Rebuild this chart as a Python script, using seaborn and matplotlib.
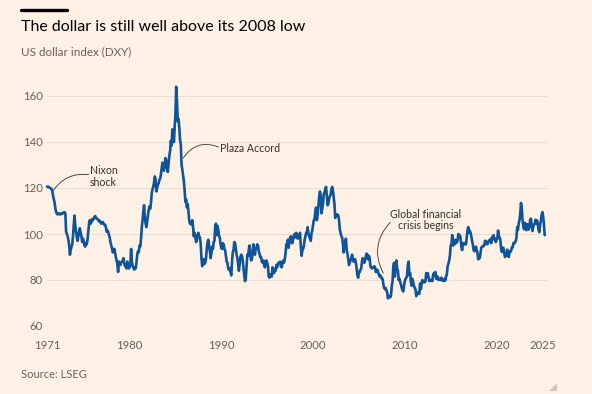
import numpy as np
import pandas as pd
import matplotlib
matplotlib.use("Agg")
import matplotlib.pyplot as plt
from matplotlib.lines import Line2D
from matplotlib.patches import Polygon
import seaborn as sns

# ---- Data: monthly US dollar index (DXY), Jan 1971 - Apr 2025 ----
dxy_1970s = [  # 1971-1980
    120.6, 120.4, 120.5, 120.3, 120.0, 119.8, 119.5, 118.5, 116.5, 115.0, 113.5, 111.0,
    109.5, 108.8, 108.5, 108.8, 109.0, 108.5, 108.6, 108.9, 109.2, 109.0, 109.3, 109.5,
    109.0, 101.0, 100.0, 99.0, 97.5, 95.0, 91.0, 93.0, 94.5, 95.5, 99.0, 104.0,
    108.0, 103.5, 101.0, 98.5, 97.0, 99.0, 101.0, 102.5, 100.5, 99.0, 96.5, 98.0,
    97.0, 95.0, 94.5, 96.0, 95.5, 97.5, 101.0, 104.5, 106.0, 104.5, 105.0, 106.5,
    106.0, 106.5, 107.5, 107.8, 107.0, 106.8, 106.5, 106.0, 105.5, 105.8, 105.0, 104.5,
    105.0, 105.2, 104.5, 104.0, 104.0, 103.0, 101.0, 101.5, 101.0, 99.5, 98.5, 96.5,
    95.0, 94.0, 92.0, 92.5, 93.5, 92.0, 90.0, 88.5, 87.0, 83.5, 88.0, 87.0,
    86.5, 87.5, 88.0, 88.5, 89.5, 87.5, 86.0, 86.5, 85.0, 88.0, 86.5, 85.0,
    85.5, 87.0, 93.5, 88.0, 86.0, 85.5, 84.5, 85.5, 85.0, 87.5, 91.0, 92.5,
]
dxy_1980s = [  # 1981-1990
    92.0, 95.0, 94.5, 98.0, 103.0, 106.0, 110.0, 112.5, 107.0, 104.5, 103.0, 105.5,
    108.0, 110.5, 112.0, 111.0, 113.5, 118.0, 119.5, 120.5, 122.5, 125.0, 124.0, 118.5,
    120.0, 121.5, 122.0, 123.5, 124.0, 126.0, 128.5, 131.0, 128.0, 127.5, 130.5, 133.0,
    132.0, 128.5, 127.0, 130.5, 134.0, 136.0, 140.5, 138.5, 145.5, 143.0, 140.0, 146.5,
    152.0, 164.0, 158.0, 149.0, 150.0, 146.5, 141.0, 139.0, 130.0, 128.0, 125.5, 123.0,
    119.0, 114.0, 115.0, 111.5, 113.0, 110.0, 106.0, 104.5, 105.0, 104.0, 106.0, 103.5,
    99.0, 100.5, 99.0, 96.5, 97.5, 99.5, 100.5, 99.0, 98.5, 96.0, 89.5, 86.0,
    88.5, 89.0, 87.0, 87.5, 89.5, 93.5, 96.5, 97.5, 95.0, 92.5, 89.5, 91.5,
    94.5, 93.5, 96.5, 97.0, 103.0, 104.5, 99.5, 103.5, 102.0, 99.0, 98.5, 95.5,
    94.0, 93.5, 96.0, 95.5, 93.5, 93.0, 90.5, 88.0, 87.5, 85.0, 84.5, 85.0,
]
dxy_1990s = [  # 1991-2000
    83.5, 82.0, 88.0, 92.0, 93.0, 96.5, 96.0, 93.5, 91.0, 89.5, 87.0, 84.0,
    87.0, 90.0, 91.0, 90.5, 88.5, 85.0, 82.0, 79.5, 80.5, 85.5, 91.0, 90.5,
    93.5, 95.0, 91.0, 88.5, 89.0, 92.0, 95.5, 92.5, 91.0, 93.5, 94.0, 95.5,
    95.0, 92.5, 91.5, 90.0, 90.0, 88.0, 87.5, 88.5, 86.5, 85.5, 88.0, 88.5,
    87.5, 86.0, 81.5, 81.0, 82.5, 82.0, 81.5, 85.5, 84.5, 83.0, 84.5, 84.0,
    86.5, 85.5, 87.0, 87.5, 87.5, 88.0, 86.0, 85.5, 87.5, 88.5, 87.5, 89.0,
    91.5, 95.5, 94.5, 97.5, 94.0, 96.0, 98.5, 99.0, 96.5, 96.0, 98.0, 99.5,
    100.0, 98.5, 100.5, 98.5, 98.0, 99.0, 99.5, 100.5, 94.5, 90.5, 93.0, 93.5,
    95.0, 97.5, 99.0, 100.5, 101.0, 103.0, 100.0, 99.0, 98.0, 97.0, 100.5, 101.5,
    104.0, 106.0, 106.5, 110.0, 111.5, 106.0, 108.5, 112.5, 116.0, 118.5, 116.5, 109.0,
]
dxy_2000s = [  # 2001-2010
    111.0, 113.0, 117.5, 118.0, 119.5, 120.5, 116.5, 112.5, 113.0, 115.5, 116.5, 117.0,
    119.5, 120.5, 119.0, 116.0, 113.0, 107.0, 108.5, 108.5, 108.5, 108.0, 106.0, 102.0,
    100.5, 99.0, 98.5, 96.0, 92.0, 95.0, 96.0, 98.0, 93.0, 91.5, 89.0, 86.5,
    87.5, 88.5, 89.5, 91.0, 89.5, 88.0, 88.5, 89.0, 87.5, 85.0, 82.0, 81.0,
    83.5, 83.5, 84.5, 85.0, 88.0, 89.5, 89.0, 87.5, 88.5, 90.0, 91.5, 91.0,
    89.0, 90.5, 89.5, 86.0, 85.5, 85.0, 85.5, 85.5, 86.0, 85.5, 83.5, 83.5,
    84.5, 83.5, 82.5, 81.5, 82.0, 81.5, 80.5, 80.5, 78.0, 76.5, 76.0, 76.5,
    75.5, 74.5, 72.0, 73.0, 73.0, 72.5, 73.5, 77.5, 79.5, 86.0, 87.5, 81.5,
    86.0, 88.5, 85.0, 84.0, 80.0, 80.5, 79.0, 78.0, 76.5, 75.5, 75.0, 77.5,
    79.5, 80.5, 81.0, 82.0, 86.5, 88.0, 82.0, 83.0, 79.0, 77.5, 80.5, 79.0,
]
dxy_2010s = [  # 2011-2020
    77.5, 76.5, 76.0, 73.0, 74.5, 74.5, 74.0, 74.0, 78.5, 76.0, 78.5, 80.0,
    79.0, 79.5, 79.0, 79.5, 83.0, 81.5, 83.0, 81.5, 79.5, 80.0, 80.0, 79.8,
    79.5, 82.0, 83.0, 82.0, 83.5, 80.5, 81.5, 81.5, 80.0, 80.5, 80.5, 80.0,
    81.0, 79.8, 80.0, 79.5, 80.5, 79.8, 81.5, 82.5, 86.0, 87.0, 88.5, 90.5,
    95.0, 95.5, 99.5, 95.0, 96.5, 95.5, 97.5, 96.0, 96.5, 97.0, 100.0, 98.5,
    99.5, 98.0, 94.5, 93.0, 96.0, 96.0, 95.5, 96.0, 95.5, 98.5, 101.5, 103.0,
    100.5, 101.5, 100.5, 99.0, 97.0, 95.5, 93.0, 92.5, 93.0, 94.5, 93.0, 92.0,
    89.0, 90.5, 89.5, 91.5, 94.0, 94.5, 94.5, 95.0, 95.0, 97.0, 97.0, 96.0,
    95.5, 96.5, 97.0, 97.5, 97.5, 96.0, 98.5, 98.9, 99.5, 97.5, 98.0, 96.5,
    97.5, 98.0, 101.5, 99.0, 98.5, 97.5, 93.5, 92.2, 94.0, 94.0, 91.8, 90.0,
]
dxy_2020s = [  # 2021-Apr 2025
    90.5, 90.9, 93.2, 91.3, 90.0, 92.4, 92.2, 92.6, 94.2, 94.1, 96.0, 95.7,
    96.5, 96.7, 98.3, 103.0, 101.8, 104.7, 106.0, 108.8, 113.5, 111.0, 105.9, 103.5,
    102.1, 104.9, 102.5, 101.7, 104.3, 102.9, 101.9, 103.6, 106.2, 106.7, 103.5, 101.3,
    103.3, 104.2, 104.5, 106.2, 104.6, 105.9, 104.1, 101.7, 100.8, 104.0, 105.7, 108.5,
    109.5, 107.6, 104.2, 99.5,
]
start_year = 1971
x_tick_years = [1971, 1980, 1990, 2000, 2010, 2020, 2025]
y_ticks = [60, 80, 100, 120, 140, 160]

values = dxy_1970s + dxy_1980s + dxy_1990s + dxy_2000s + dxy_2010s + dxy_2020s
df = pd.DataFrame({
    "year": start_year + np.arange(len(values)) / 12.0,
    "dxy": values,
})

# ---- Style ----
BG = "#FFF1E5"
TEXT = "#33302E"
GREY = "#66605C"
GRID = "#E9DCD1"
BLUE = "#0F5499"

sns.set_theme(style="white")
plt.rcParams["font.family"] = ["Lato", "DejaVu Sans"]

fig = plt.figure(figsize=(5.92, 3.94), dpi=100, facecolor=BG)
ax = fig.add_axes([47 / 592, 1 - 326 / 394, 500 / 592, 253 / 394])
ax.set_facecolor(BG)

sns.lineplot(data=df, x="year", y="dxy", ax=ax, color=BLUE, linewidth=1.9,
             clip_on=False, zorder=3)

ax.set_xlim(1971, 2025.5)
ax.set_ylim(60, 170)
ax.set_xlabel("")
ax.set_ylabel("")

for s in ax.spines.values():
    s.set_visible(False)

ax.set_yticks(y_ticks)
ax.set_yticklabels([str(v) for v in y_ticks])
ax.set_xticks(x_tick_years)
ax.set_xticklabels([str(v) for v in x_tick_years])
ax.set_xticks(np.arange(1971, 2026), minor=True)
ax.tick_params(axis="y", length=0, pad=3, labelsize=8.2, labelcolor=GREY)
ax.tick_params(axis="x", which="major", length=6, width=0.8, color="#D9CCC1",
               pad=4, labelsize=8.2, labelcolor=GREY)
ax.tick_params(axis="x", which="minor", length=4, width=0.6, color="#D9CCC1")

for v in y_ticks[1:]:
    ax.axhline(v, color=GRID, linewidth=0.7, zorder=1)
ax.axhline(60, color="#D9CCC1", linewidth=0.9, zorder=1)

# ---- Annotations ----
ann_kw = dict(fontsize=7.6, color=TEXT, va="center")
line_kw = dict(arrowstyle="-", color=TEXT, lw=0.6, shrinkA=0, shrinkB=0)

ax.text(1975.7, 125.0, "Nixon\nshock", ha="left", linespacing=1.05, **ann_kw)
ax.annotate("", xy=(1971.7, 119.0), xytext=(1975.55, 125.8),
            arrowprops=dict(connectionstyle="arc3,rad=0.3", **line_kw))

ax.text(1989.85, 137.3, "Plaza Accord", ha="left", **ann_kw)
ax.annotate("", xy=(1985.85, 133.0), xytext=(1989.7, 137.8),
            arrowprops=dict(connectionstyle="arc3,rad=0.4", **line_kw))

ax.text(2012.3, 106.0, "Global financial\ncrisis begins", ha="center",
        linespacing=1.05, **ann_kw)
ax.annotate("", xy=(2007.65, 83.0), xytext=(2008.4, 105.0),
            arrowprops=dict(connectionstyle="arc3,rad=0.35", **line_kw))

# ---- Titles ----
fig.add_artist(Line2D([21 / 592, 67 / 592], [1 - 9.5 / 394, 1 - 9.5 / 394],
                      color="#000000", linewidth=2.4,
                      transform=fig.transFigure))
fig.text(21 / 592, 1 - 27 / 394, "The dollar is still well above its 2008 low",
         fontsize=11.5, color="#000000", va="center", ha="left")
fig.text(21 / 592, 1 - 52 / 394, "US dollar index (DXY)",
         fontsize=8.4, color=GREY, va="center", ha="left")
fig.text(21 / 592, 1 - 374 / 394, "Source: LSEG",
         fontsize=8.0, color=GREY, va="center", ha="left")

# small corner mark
fig.add_artist(Polygon([[557 / 592, 1 - 383 / 394], [557 / 592, 1 - 391 / 394],
                        [549 / 592, 1 - 391 / 394]], closed=True,
                       facecolor="#CFC6BF", edgecolor="none",
                       transform=fig.transFigure))

fig.savefig("out.png", dpi=100, facecolor=BG)
